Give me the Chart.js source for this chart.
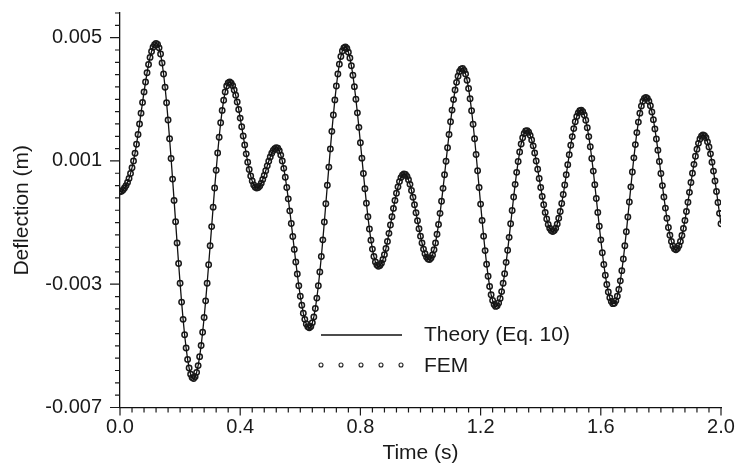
<!doctype html>
<html lang="en">
<head>
<meta charset="utf-8">
<title>Deflection vs time</title>
<style>
  * { margin: 0; padding: 0; }
  body { background: #fff; }
  .chartBox { width: 738px; height: 474px; }
</style>
</head>
<body>
<div class="chartBox"><canvas id="myChart" width="738" height="474"></canvas></div>
<script src="https://cdn.jsdelivr.net/npm/chart.js/dist/chart.umd.min.js"></script>
<script>
// sampling step of the FEM output (s)
const dt = 0.005;

// deflection (m), every 0.005 s from 0.0 to 2.0 s (one row = 0.1 s)
const deflection = [
  0.00000, 0.00002, 0.00006, 0.00012, 0.00020, 0.00030, 0.00043, 0.00059, 0.00078, 0.00100, 0.00125, 0.00154, 0.00186, 0.00220, 0.00255, 0.00290, 0.00324, 0.00356, 0.00386, 0.00413,
  0.00436, 0.00455, 0.00469, 0.00477, 0.00481, 0.00478, 0.00467, 0.00447, 0.00418, 0.00382, 0.00339, 0.00289, 0.00233, 0.00172, 0.00108, 0.00041, -0.00028, -0.00097, -0.00166, -0.00233,
  -0.00297, -0.00358, -0.00414, -0.00464, -0.00507, -0.00544, -0.00572, -0.00592, -0.00603, -0.00606, -0.00600, -0.00586, -0.00564, -0.00535, -0.00499, -0.00456, -0.00408, -0.00354, -0.00297, -0.00237,
  -0.00175, -0.00113, -0.00050, 0.00012, 0.00070, 0.00126, 0.00177, 0.00224, 0.00264, 0.00297, 0.00324, 0.00343, 0.00353, 0.00356, 0.00352, 0.00344, 0.00330, 0.00313, 0.00291, 0.00267,
  0.00239, 0.00211, 0.00181, 0.00152, 0.00123, 0.00096, 0.00072, 0.00051, 0.00035, 0.00022, 0.00015, 0.00012, 0.00014, 0.00019, 0.00028, 0.00040, 0.00053, 0.00068, 0.00084, 0.00099,
  0.00113, 0.00125, 0.00134, 0.00140, 0.00143, 0.00141, 0.00133, 0.00119, 0.00100, 0.00076, 0.00047, 0.00014, -0.00023, -0.00062, -0.00103, -0.00145, -0.00187, -0.00228, -0.00267, -0.00305,
  -0.00339, -0.00368, -0.00394, -0.00414, -0.00429, -0.00438, -0.00441, -0.00437, -0.00425, -0.00406, -0.00379, -0.00345, -0.00305, -0.00260, -0.00210, -0.00156, -0.00098, -0.00039, 0.00021, 0.00080,
  0.00139, 0.00196, 0.00249, 0.00298, 0.00343, 0.00382, 0.00414, 0.00439, 0.00457, 0.00467, 0.00470, 0.00465, 0.00453, 0.00434, 0.00409, 0.00378, 0.00341, 0.00300, 0.00256, 0.00209,
  0.00159, 0.00109, 0.00059, 0.00010, -0.00037, -0.00081, -0.00121, -0.00157, -0.00186, -0.00210, -0.00228, -0.00238, -0.00242, -0.00239, -0.00232, -0.00220, -0.00204, -0.00184, -0.00161, -0.00135,
  -0.00108, -0.00081, -0.00054, -0.00028, -0.00005, 0.00016, 0.00033, 0.00046, 0.00054, 0.00058, 0.00056, 0.00050, 0.00039, 0.00024, 0.00004, -0.00018, -0.00042, -0.00068, -0.00094, -0.00120,
  -0.00144, -0.00166, -0.00186, -0.00201, -0.00212, -0.00218, -0.00220, -0.00215, -0.00205, -0.00188, -0.00166, -0.00138, -0.00106, -0.00070, -0.00031, 0.00011, 0.00055, 0.00099, 0.00143, 0.00186,
  0.00227, 0.00265, 0.00299, 0.00330, 0.00355, 0.00375, 0.00390, 0.00398, 0.00400, 0.00394, 0.00382, 0.00362, 0.00335, 0.00302, 0.00263, 0.00219, 0.00172, 0.00121, 0.00068, 0.00014,
  -0.00040, -0.00093, -0.00144, -0.00191, -0.00235, -0.00274, -0.00307, -0.00334, -0.00353, -0.00366, -0.00372, -0.00370, -0.00361, -0.00346, -0.00324, -0.00297, -0.00266, -0.00229, -0.00190, -0.00148,
  -0.00104, -0.00061, -0.00017, 0.00024, 0.00063, 0.00098, 0.00129, 0.00155, 0.00175, 0.00189, 0.00197, 0.00198, 0.00193, 0.00183, 0.00168, 0.00149, 0.00126, 0.00100, 0.00073, 0.00043,
  0.00014, -0.00015, -0.00042, -0.00067, -0.00088, -0.00106, -0.00118, -0.00126, -0.00129, -0.00126, -0.00118, -0.00105, -0.00086, -0.00064, -0.00038, -0.00009, 0.00022, 0.00055, 0.00088, 0.00120,
  0.00151, 0.00179, 0.00205, 0.00227, 0.00244, 0.00256, 0.00263, 0.00265, 0.00260, 0.00249, 0.00232, 0.00208, 0.00179, 0.00146, 0.00108, 0.00067, 0.00023, -0.00022, -0.00067, -0.00112,
  -0.00156, -0.00198, -0.00236, -0.00271, -0.00301, -0.00325, -0.00344, -0.00356, -0.00363, -0.00362, -0.00354, -0.00339, -0.00317, -0.00289, -0.00256, -0.00218, -0.00175, -0.00130, -0.00082, -0.00033,
  0.00016, 0.00064, 0.00110, 0.00153, 0.00192, 0.00226, 0.00255, 0.00278, 0.00294, 0.00303, 0.00306, 0.00303, 0.00294, 0.00279, 0.00259, 0.00234, 0.00204, 0.00171, 0.00135, 0.00098,
  0.00059, 0.00020, -0.00017, -0.00053, -0.00086, -0.00116, -0.00141, -0.00161, -0.00176, -0.00185, -0.00188, -0.00184, -0.00175, -0.00161, -0.00142, -0.00119, -0.00093, -0.00064, -0.00034, -0.00002,
  0.00030, 0.00060, 0.00089, 0.00115, 0.00138, 0.00157, 0.00171, 0.00180, 0.00184, 0.00182, 0.00175, 0.00162, 0.00145, 0.00123, 0.00096, 0.00067, 0.00035, 0.00001, -0.00035, -0.00070,
  -0.00104
];

const xTicks = [0, 0.4, 0.8, 1.2, 1.6, 2.0];
const xTickLabels = ['0.0', '0.4', '0.8', '1.2', '1.6', '2.0'];
const yTicks = [-0.007, -0.003, 0.001, 0.005];
const yTickLabels = ['-0.007', '-0.003', '0.001', '0.005'];
const legendLabels = ['Theory (Eq. 10)', 'FEM'];

const points = deflection.map((v, i) => ({ x: +(i * dt).toFixed(3), y: v }));

const FONT = "'Liberation Sans', Arial, sans-serif";
const INK = '#1a1a1a';

// minor/major tick marks outside the axes + the legend inside the plot
const decorations = {
  id: 'decorations',
  afterDraw(chart) {
    const { ctx, chartArea: a, scales: { x, y } } = chart;
    ctx.save();
    ctx.strokeStyle = INK;
    ctx.lineWidth = 1.2;
    ctx.beginPath();
    for (let i = 0; i <= 50; i++) {
      const px = x.getPixelForValue(i * 0.04);
      const len = i % 10 === 0 ? 8 : 5;
      ctx.moveTo(px, a.bottom);
      ctx.lineTo(px, a.bottom + len);
    }
    for (let i = 0; i <= 32; i++) {
      const py = y.getPixelForValue(-0.007 + i * 0.0004);
      const len = i % 10 === 0 ? 10 : 5;
      ctx.moveTo(a.left, py);
      ctx.lineTo(a.left - len, py);
    }
    ctx.stroke();

    // legend
    const lx = a.left + 201, tx = a.left + 304;
    const ly1 = a.top + 322, ly2 = a.top + 352;
    ctx.strokeStyle = '#111';
    ctx.lineWidth = 1.3;
    ctx.beginPath();
    ctx.moveTo(lx, ly1);
    ctx.lineTo(lx + 81, ly1);
    ctx.stroke();
    ctx.lineWidth = 1.1;
    ctx.strokeStyle = '#222';
    for (let k = 0; k < 5; k++) {
      ctx.beginPath();
      ctx.arc(lx + k * 20, ly2, 2, 0, Math.PI * 2);
      ctx.stroke();
    }
    ctx.fillStyle = INK;
    ctx.font = '21px ' + FONT;
    ctx.textBaseline = 'middle';
    ctx.textAlign = 'left';
    ctx.fillText(legendLabels[0], tx, ly1);
    ctx.fillText(legendLabels[1], tx, ly2 + 1);
    ctx.restore();
  }
};

const data = {
  datasets: [{
    label: legendLabels[0],
    data: points,
    borderColor: '#111',
    borderWidth: 1.3,
    pointRadius: 0,
    tension: 0
  }, {
    label: legendLabels[1],
    data: points,
    showLine: false,
    pointRadius: 2.7,
    pointBorderWidth: 1.5,
    pointBorderColor: '#1a1a1a',
    pointBackgroundColor: 'rgba(255,255,255,0)'
  }]
};

const config = {
  type: 'line',
  data,
  options: {
    responsive: false,
    animation: false,
    events: [],
    layout: { padding: { top: 13, right: 17, left: 0, bottom: 0 } },
    plugins: { legend: { display: false }, tooltip: { enabled: false } },
    scales: {
      x: {
        type: 'linear',
        min: 0,
        max: 2,
        afterBuildTicks: s => { s.ticks = xTicks.map(v => ({ value: v })); },
        afterFit: s => { s.height = 66.5; s.paddingLeft = 0; s.paddingRight = 0; },
        ticks: {
          callback: (v, i) => xTickLabels[i],
          color: INK,
          padding: 8,
          maxRotation: 0,
          autoSkip: false,
          font: { family: FONT, size: 20 }
        },
        grid: { display: false, drawTicks: false },
        border: { display: true, color: '#111', width: 1.3 },
        title: {
          display: true,
          text: 'Time (s)',
          color: INK,
          padding: { top: 0, bottom: 8 },
          font: { family: FONT, size: 21 }
        }
      },
      y: {
        type: 'linear',
        min: -0.007,
        max: 0.0058,
        afterBuildTicks: s => { s.ticks = yTicks.map(v => ({ value: v })); },
        afterFit: s => { s.width = 120; s.paddingTop = 0; s.paddingBottom = 0; },
        ticks: {
          callback: (v, i) => yTickLabels[i],
          color: INK,
          padding: 18,
          autoSkip: false,
          font: { family: FONT, size: 20 }
        },
        grid: { display: false, drawTicks: false },
        border: { display: true, color: '#111', width: 1.3 },
        title: {
          display: true,
          text: 'Deflection (m)',
          color: INK,
          padding: { top: 10, bottom: 0 },
          font: { family: FONT, size: 21 }
        }
      }
    }
  },
  plugins: [decorations]
};

const myChart = new Chart(document.getElementById('myChart'), config);
</script>
</body>
</html>
